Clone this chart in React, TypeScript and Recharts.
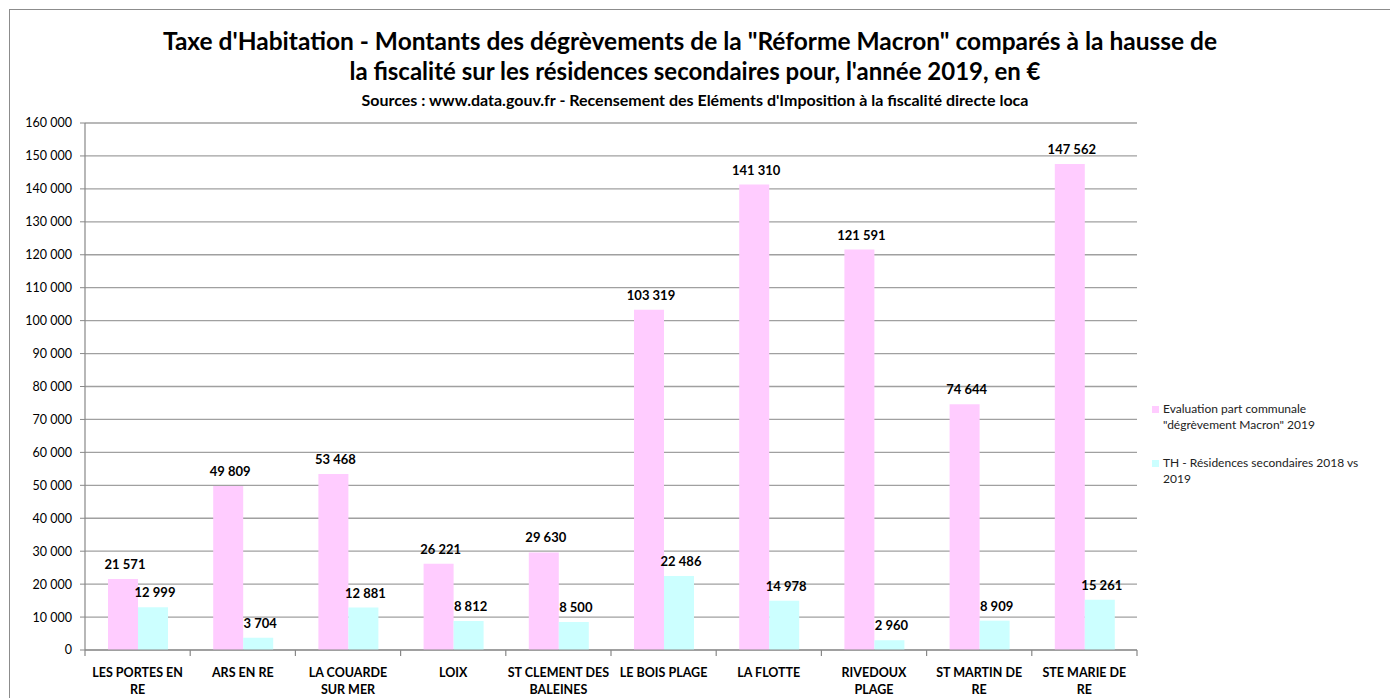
import React from 'react'
import { BarChart, Bar, XAxis, YAxis, CartesianGrid, LabelList } from 'recharts'

const communes = [
  'LES PORTES EN\nRE',
  'ARS EN RE',
  'LA COUARDE\nSUR MER',
  'LOIX',
  'ST CLEMENT DES\nBALEINES',
  'LE BOIS PLAGE',
  'LA FLOTTE',
  'RIVEDOUX\nPLAGE',
  'ST MARTIN DE\nRE',
  'STE MARIE DE\nRE',
]
const degrevementMacron = [21571, 49809, 53468, 26221, 29630, 103319, 141310, 121591, 74644, 147562]
const residencesSecondaires = [12999, 3704, 12881, 8812, 8500, 22486, 14978, 2960, 8909, 15261]
const yTicks = [0, 10000, 20000, 30000, 40000, 50000, 60000, 70000, 80000, 90000, 100000, 110000, 120000, 130000, 140000, 150000, 160000]

const seriesNames = [
  'Evaluation part communale "dégrèvement Macron" 2019',
  'TH - Résidences secondaires 2018 vs 2019',
]

const data = communes.map((c, i) => ({
  commune: c,
  macron: degrevementMacron[i],
  rs: residencesSecondaires[i],
}))

const fmt = (v: number) => String(v).replace(/\B(?=(\d{3})+(?!\d))/g, ' ')

const FONT = 'Lato, "Open Sans", sans-serif'
const PINK = '#FFCCFF'
const CYAN = '#CCFFFF'

const PLOT_LEFT = 85
const PLOT_RIGHT = 1137
const BAND = (PLOT_RIGHT - PLOT_LEFT) / communes.length

const CategoryTick = (props: any) => {
  const { x, y, payload, index } = props
  const lines = String(payload.value).split('\n')
  return (
    <g>
      <line x1={x - BAND / 2} x2={x - BAND / 2} y1={y} y2={y + 6} stroke="#888" strokeWidth={1.2} />
      {index === communes.length - 1 && (
        <line x1={x + BAND / 2} x2={x + BAND / 2} y1={y} y2={y + 6} stroke="#888" strokeWidth={1.2} />
      )}
      <text textAnchor="middle" fontFamily={FONT} fontSize={12.5} fontWeight="bold" fill="#000">
        {lines.map((l, i) => (
          <tspan key={i} x={x} y={y + 27 + i * 17}>{l}</tspan>
        ))}
      </text>
    </g>
  )
}

const ValueLabel = (props: any) => {
  const { x, y, width, value } = props
  return (
    <text x={x + width / 2 + 2} y={y - 10} textAnchor="middle" fontFamily={FONT} fontSize={13} fontWeight="bold" fill="#000">
      {fmt(value)}
    </text>
  )
}

const ChartLegend = () => (
  <div style={{ position: 'absolute', left: 1152, top: 401, fontFamily: FONT, fontSize: 12, color: '#222' }}>
    {[PINK, CYAN].map((col, i) => (
      <div key={i} style={{ display: 'flex', alignItems: 'flex-start', marginBottom: 22 }}>
        <span style={{ width: 7, height: 7, background: col, marginTop: 5, marginRight: 4, flexShrink: 0 }} />
        <span style={{ lineHeight: '16px', width: i === 0 ? 185 : 205 }}>{seriesNames[i]}</span>
      </div>
    ))}
  </div>
)

export default function App() {
  return (
    <div style={{ position: 'absolute', left: 0, top: 0, width: 1390, height: 698, overflow: 'hidden', background: '#fff' }}>
      <div style={{ position: 'absolute', left: 9, top: 9, width: 1400, height: 700, border: '1.5px solid #8c8c8c' }} />
      <div style={{ position: 'absolute', left: 0, top: 26, width: 1390, textAlign: 'center', fontFamily: FONT, fontWeight: 'bold', fontSize: 24.5, lineHeight: '30px', color: '#000' }}>
        <div style={{ paddingRight: 10 }}>Taxe d'Habitation - Montants des dégrèvements de la "Réforme Macron" comparés à la hausse de</div>
        <div style={{ fontSize: 24 }}>la fiscalité sur les résidences secondaires pour, l'année 2019, en €</div>
      </div>
      <div style={{ position: 'absolute', left: 0, top: 90, width: 1390, textAlign: 'center', fontFamily: FONT, fontWeight: 'bold', fontSize: 16, color: '#000' }}>
        Sources : www.data.gouv.fr - Recensement des Eléments d'Imposition à la fiscalité directe loca
      </div>
      <div style={{ position: 'absolute', left: 0, top: 0 }}>
        <BarChart
          width={1390}
          height={698}
          data={data}
          margin={{ top: 123, right: 1390 - PLOT_RIGHT, left: 0, bottom: 0 }}
          barGap={0}
        >
          <CartesianGrid vertical={false} stroke="#a0a0a0" strokeWidth={1.3} />
          <XAxis
            dataKey="commune"
            interval={0}
            tickSize={0}
            tickMargin={0}
            tick={<CategoryTick />}
            axisLine={{ stroke: '#888', strokeWidth: 1.2 }}
            height={48}
          />
          <YAxis
            width={PLOT_LEFT}
            domain={[0, 160000]}
            ticks={yTicks}
            tickFormatter={fmt}
            tickSize={5}
            tickMargin={8}
            tickLine={{ stroke: '#888' }}
            axisLine={{ stroke: '#888', strokeWidth: 1.2 }}
            tick={{ fontFamily: FONT, fontSize: 12.5, fill: '#000' }}
          />
          <Bar dataKey="macron" name={seriesNames[0]} fill={PINK} barSize={30} isAnimationActive={false}>
            <LabelList dataKey="macron" content={<ValueLabel />} />
          </Bar>
          <Bar dataKey="rs" name={seriesNames[1]} fill={CYAN} barSize={30} isAnimationActive={false}>
            <LabelList dataKey="rs" content={<ValueLabel />} />
          </Bar>
        </BarChart>
      </div>
      <ChartLegend />
    </div>
  )
}
